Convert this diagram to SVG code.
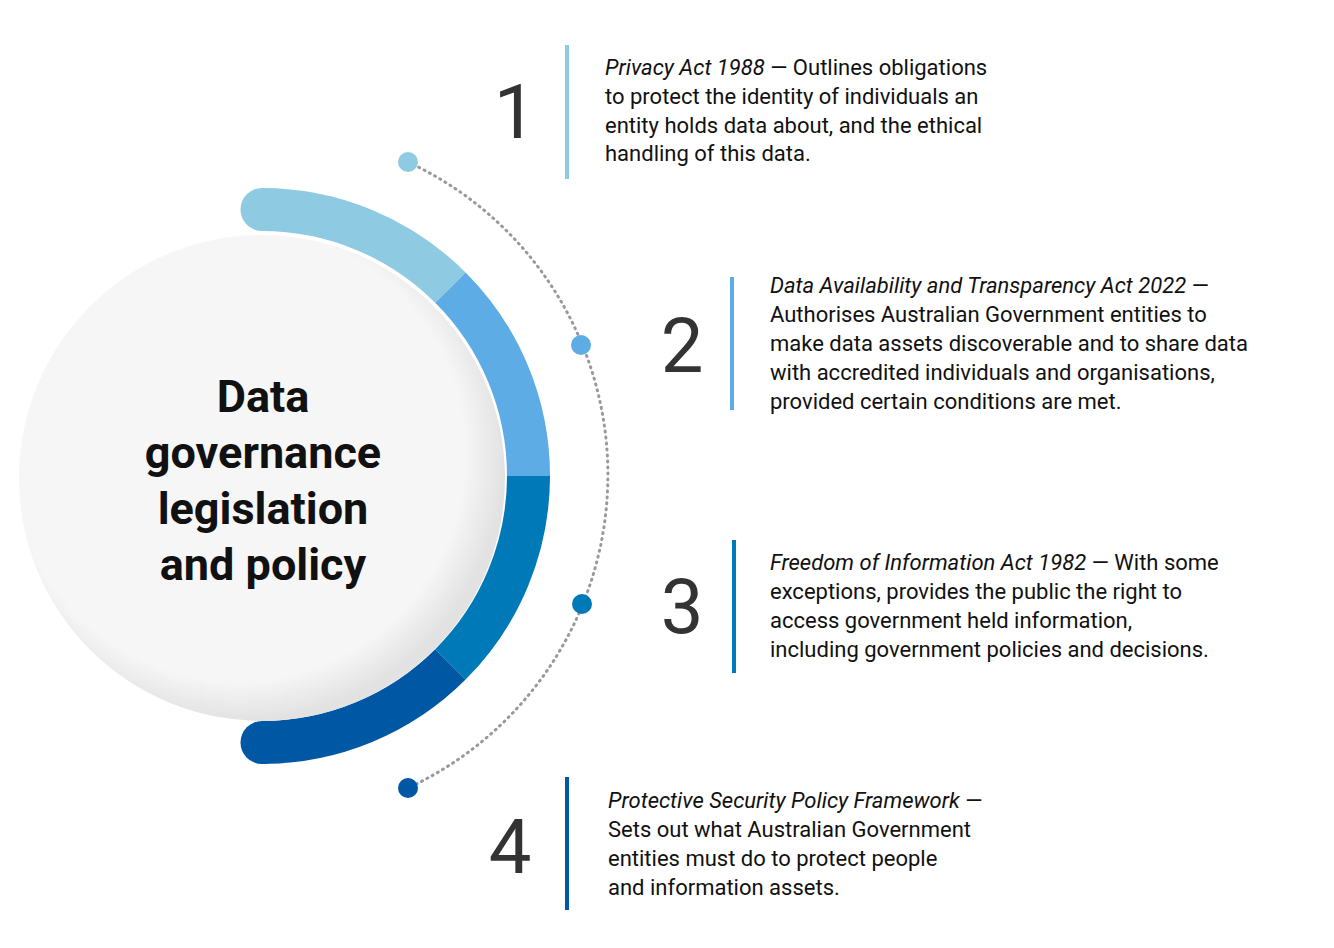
<svg xmlns="http://www.w3.org/2000/svg" width="1334" height="948" viewBox="0 0 1334 948">
<style>
.t{font-family:Roboto,"Liberation Sans",sans-serif;font-size:22px;fill:#111}
.n{font-family:Roboto,"Liberation Sans",sans-serif;font-size:76px;fill:#333;text-anchor:middle}
.h{font-family:Roboto,"Liberation Sans",sans-serif;font-size:45px;font-weight:bold;fill:#111;text-anchor:middle}
.seg{fill:none;stroke-width:43}
</style>
<defs>
<radialGradient id="g" cx="0.45" cy="0.45" r="0.55">
<stop offset="0.85" stop-color="#f6f6f6"/><stop offset="1" stop-color="#e2e2e2"/>
</radialGradient>
</defs>
<g id="ring">
<path class="seg" stroke="#8FCAE3" d="M262 209.5 A266.5 266.5 0 0 1 450.4 287.6"/>
<path class="seg" stroke="#5DACE5" d="M450.4 287.6 A266.5 266.5 0 0 1 528.5 476"/>
<path class="seg" stroke="#0079B8" d="M528.5 476 A266.5 266.5 0 0 1 450.4 664.4"/>
<path class="seg" stroke="#0057A4" d="M450.4 664.4 A266.5 266.5 0 0 1 262 742.5"/>
<circle cx="262" cy="209.5" r="21.5" fill="#8FCAE3"/>
<circle cx="262" cy="742.5" r="21.5" fill="#0057A4"/>
</g>
<g id="center">
<circle cx="262" cy="478" r="243" fill="url(#g)"/>
<text class="h"><tspan x="263" y="412">Data</tspan><tspan x="263" y="468">governance</tspan><tspan x="263" y="524">legislation</tspan><tspan x="263" y="580">and policy</tspan></text>
</g>
<g id="connectors">
<path d="M408 162 A345 345 0 0 1 408 788" fill="none" stroke="#999" stroke-width="3" stroke-dasharray="1 5" stroke-linecap="round"/>
<circle cx="408" cy="162" r="10" fill="#8FCAE3"/>
<circle cx="581" cy="345" r="10" fill="#5DACE5"/>
<circle cx="582" cy="604" r="10" fill="#0079B8"/>
<circle cx="408" cy="788" r="10" fill="#0057A4"/>
</g>
<g id="item1">
<text class="n" x="515" y="138">1</text>
<line x1="567" y1="45" x2="567" y2="179" stroke="#8FCAE3" stroke-width="4"/>
<text class="t"><tspan x="605" y="75"><tspan font-style="italic">Privacy Act 1988</tspan> — Outlines obligations</tspan><tspan x="605" y="104">to protect the identity of individuals an</tspan><tspan x="605" y="133">entity holds data about, and the ethical</tspan><tspan x="605" y="161">handling of this data.</tspan></text>
</g>
<g id="item2">
<text class="n" x="682" y="372">2</text>
<line x1="732" y1="277" x2="732" y2="410" stroke="#5DACE5" stroke-width="4"/>
<text class="t"><tspan x="770" y="293"><tspan font-style="italic">Data Availability and Transparency Act 2022</tspan> —</tspan><tspan x="770" y="322">Authorises Australian Government entities to</tspan><tspan x="770" y="351">make data assets discoverable and to share data</tspan><tspan x="770" y="380">with accredited individuals and organisations,</tspan><tspan x="770" y="409">provided certain conditions are met.</tspan></text>
</g>
<g id="item3">
<text class="n" x="682" y="633">3</text>
<line x1="734" y1="540" x2="734" y2="673" stroke="#0079B8" stroke-width="4"/>
<text class="t"><tspan x="770" y="570"><tspan font-style="italic">Freedom of Information Act 1982</tspan> — With some</tspan><tspan x="770" y="599">exceptions, provides the public the right to</tspan><tspan x="770" y="628">access government held information,</tspan><tspan x="770" y="657">including government policies and decisions.</tspan></text>
</g>
<g id="item4">
<text class="n" x="510" y="873">4</text>
<line x1="567" y1="777" x2="567" y2="910" stroke="#0057A4" stroke-width="4"/>
<text class="t"><tspan x="608" y="808"><tspan font-style="italic">Protective Security Policy Framework</tspan> —</tspan><tspan x="608" y="837">Sets out what Australian Government</tspan><tspan x="608" y="866">entities must do to protect people</tspan><tspan x="608" y="895">and information assets.</tspan></text>
</g>
</svg>
